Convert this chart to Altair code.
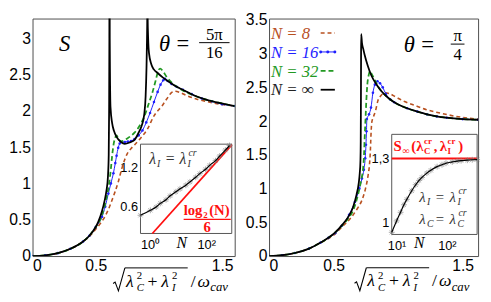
import altair as alt
import pandas as pd

# ================= values =================
# ---- left panel, theta = 5 pi / 16 ----
L8_x = [0, 0.1, 0.2, 0.3, 0.4, 0.45, 0.5, 0.55, 0.575, 0.6, 0.625, 0.652, 0.68, 0.704, 0.73, 0.75, 0.78, 0.807,
        0.858, 0.91, 0.961, 1.026, 1.065, 1.1, 1.13, 1.17, 1.22, 1.3, 1.374, 1.45, 1.53, 1.6]
L8_s = [0, 0.01, 0.04, 0.1, 0.2, 0.27, 0.37, 0.48, 0.55, 0.64, 0.75, 0.88, 1.03, 1.19, 1.33, 1.41, 1.48, 1.53,
        1.63, 1.75, 1.93, 2.07, 2.17, 2.25, 2.27, 2.25, 2.21, 2.16, 2.13, 2.1, 2.08, 2.065]
L16_x = [0, 0.1, 0.2, 0.3, 0.4, 0.45, 0.5, 0.55, 0.575, 0.6, 0.62, 0.64, 0.655, 0.665, 0.678, 0.69, 0.70, 0.73,
         0.755, 0.78, 0.807, 0.84, 0.87, 0.9, 0.93, 0.961, 0.99, 1.013, 1.035, 1.048, 1.07, 1.1, 1.14, 1.19,
         1.26, 1.34, 1.42, 1.5, 1.6]
L16_s = [0, 0.01, 0.04, 0.1, 0.2, 0.28, 0.4, 0.54, 0.68, 0.86, 1.0, 1.14, 1.28, 1.38, 1.49, 1.55, 1.57, 1.57,
         1.575, 1.585, 1.61, 1.66, 1.73, 1.84, 1.97, 2.12, 2.26, 2.36, 2.42, 2.44, 2.41, 2.37, 2.33, 2.29,
         2.23, 2.17, 2.13, 2.09, 2.065]
L32_x = [0, 0.1, 0.2, 0.3, 0.4, 0.45, 0.5, 0.53, 0.56, 0.585, 0.605, 0.62, 0.63, 0.64, 0.652, 0.665, 0.68, 0.70,
         0.75, 0.807, 0.85, 0.884, 0.92, 0.95, 0.975, 0.995, 1.01, 1.03, 1.06, 1.1, 1.15, 1.2, 1.28, 1.36, 1.45,
         1.53, 1.6]
L32_s = [0, 0.01, 0.04, 0.1, 0.2, 0.28, 0.4, 0.48, 0.62, 0.8, 0.98, 1.2, 1.38, 1.52, 1.62, 1.66, 1.61, 1.58,
         1.62, 1.70, 1.8, 1.92, 2.1, 2.26, 2.42, 2.55, 2.58, 2.55, 2.47, 2.39, 2.32, 2.27, 2.21, 2.16, 2.12,
         2.09, 2.065]
LINF_x = [0, 0.1, 0.2, 0.3, 0.4, 0.45, 0.5, 0.52, 0.55, 0.57, 0.585, 0.597, 0.603, 0.606, 0.608, 0.6095, 0.611,
          0.613, 0.617, 0.63, 0.645, 0.665, 0.70, 0.73, 0.77, 0.807, 0.84, 0.865, 0.884, 0.895, 0.902, 0.906,
          0.908, 0.9095, 0.911, 0.915, 0.922, 0.94, 0.96, 0.99, 1.03, 1.07, 1.13, 1.2, 1.28, 1.36, 1.45, 1.53, 1.6]
LINF_s = [0, 0.01, 0.04, 0.1, 0.2, 0.28, 0.4, 0.47, 0.62, 0.76, 0.9, 1.1, 1.4, 2.0, 3.0, 6.0, 3.0,
          2.5, 2.05, 1.83, 1.72, 1.64, 1.57, 1.545, 1.565, 1.60, 1.70, 1.80, 1.95, 2.2, 2.6, 3.0,
          3.3, 6.0, 3.3, 3.0, 2.79, 2.64, 2.57, 2.52, 2.46, 2.41, 2.34, 2.28, 2.21, 2.16, 2.12, 2.09, 2.065]

# ---- right panel, theta = pi / 4 ----
R8_x = [0, 0.1, 0.2, 0.31, 0.4, 0.46, 0.513, 0.564, 0.64, 0.69, 0.716, 0.745, 0.767, 0.778, 0.785, 0.79, 0.796,
        0.81, 0.825, 0.843, 0.868, 0.9, 0.93, 0.98, 1.05, 1.12, 1.22, 1.325, 1.45, 1.62]
R8_s = [0, 0.012, 0.045, 0.11, 0.2, 0.26, 0.33, 0.43, 0.58, 0.72, 0.81, 0.98, 1.19, 1.35, 1.55, 1.8, 1.98,
        2.07, 2.15, 2.3, 2.38, 2.42, 2.41, 2.36, 2.29, 2.24, 2.17, 2.12, 2.07, 2.03]
R16_x = [0, 0.1, 0.2, 0.31, 0.4, 0.46, 0.513, 0.564, 0.62, 0.665, 0.70, 0.72, 0.735, 0.745, 0.751, 0.755, 0.758,
         0.775, 0.79, 0.805, 0.82, 0.84, 0.86, 0.881, 0.906, 0.94, 0.97, 1.07, 1.15, 1.224, 1.3, 1.376, 1.5, 1.62]
R16_s = [0, 0.012, 0.045, 0.11, 0.2, 0.27, 0.34, 0.45, 0.61, 0.8, 1.0, 1.15, 1.28, 1.45, 1.65, 1.85, 2.03,
         2.1, 2.2, 2.42, 2.54, 2.59, 2.56, 2.5, 2.4, 2.32, 2.28, 2.19, 2.14, 2.10, 2.07, 2.05, 2.03, 2.02]
R32_x = [0, 0.1, 0.2, 0.31, 0.4, 0.46, 0.513, 0.57, 0.614, 0.65, 0.68, 0.703, 0.718, 0.729, 0.736, 0.741, 0.748,
         0.754, 0.762, 0.772, 0.782, 0.795, 0.817, 0.84, 0.868, 0.92, 0.97, 1.07, 1.15, 1.224, 1.3, 1.376, 1.5,
         1.62]
R32_s = [0, 0.012, 0.045, 0.11, 0.2, 0.27, 0.35, 0.46, 0.56, 0.67, 0.84, 1.02, 1.16, 1.3, 1.5, 1.75, 2.05,
         2.31, 2.55, 2.68, 2.74, 2.70, 2.62, 2.53, 2.45, 2.35, 2.28, 2.19, 2.14, 2.10, 2.07, 2.05, 2.03, 2.02]
RINF_x = [0, 0.1, 0.2, 0.31, 0.4, 0.46, 0.513, 0.57, 0.614, 0.65, 0.678, 0.695, 0.703, 0.708, 0.7105, 0.712,
          0.713, 0.714, 0.72, 0.73, 0.741, 0.765, 0.792, 0.83, 0.868, 0.92, 0.97, 1.07, 1.15, 1.224, 1.3, 1.376,
          1.5, 1.62]
RINF_s = [0, 0.012, 0.045, 0.11, 0.2, 0.27, 0.35, 0.47, 0.58, 0.72, 0.91, 1.08, 1.23, 1.4, 1.7, 2.3,
          2.9, 3.29, 3.16, 3.07, 2.98, 2.82, 2.68, 2.55, 2.45, 2.35, 2.28, 2.19, 2.14, 2.10, 2.07, 2.05,
          2.03, 2.02]

# ---- left inset: lambda_I^cr versus N (log) ----
LI_N = [1, 2, 3, 4, 6, 8, 12, 16, 24, 32, 48, 64, 96, 128, 192, 256, 384, 512]
LI_V = [0.475, 0.55, 0.60, 0.655, 0.71, 0.77, 0.83, 0.875, 0.93, 0.98, 1.05, 1.105, 1.17, 1.23, 1.30, 1.37,
        1.46, 1.53]
LI_RED_N = [2.3, 600]
LI_RED_V = [0.2, 1.538]

# ---- right inset: S at the critical point versus N (log) ----
RI_N = [8, 10, 12, 14, 16, 20, 24, 28, 32, 40, 48, 64, 80, 96, 128, 160, 192, 256, 320, 400]
RI_V = [0.957, 1.01, 1.05, 1.085, 1.11, 1.15, 1.178, 1.198, 1.212, 1.232, 1.245, 1.262, 1.271, 1.278, 1.284,
        1.288, 1.29, 1.292, 1.294, 1.295]
RI_RED_N = [8, 400]
RI_RED_V = [1.30, 1.30]

LEG_LABELS = ["N = 8", "N = 16", "N = 32", "N = ∞"]
X_TICKS = [0, 0.5, 1.5]
L_Y_TICKS = [0, 0.5, 1, 1.5, 2, 2.5, 3]
R_Y_TICKS = [0, 0.5, 1, 1.5, 2, 2.5, 3, 3.5]

# ================= styles / layout =================
SANS = "Liberation Sans"
SERIF = "Liberation Serif"
H = 242
W1, W2 = 206, 213
C8, C16, C32, CINF = "#b8501f", "#1f1fff", "#229922", "#000000"
CRED = "#ff1010"
STYLE = {
    "8": dict(color=C8, strokeWidth=1.6, strokeDash=[4, 3]),
    "16": dict(color=C16, strokeWidth=1.0),
    "32": dict(color=C32, strokeWidth=1.8, strokeDash=[5, 3]),
    "inf": dict(color=CINF, strokeWidth=1.8),
}
ASTERISK = "M-1,0L1,0M0,-1L0,1M-0.7,-0.7L0.7,0.7M-0.7,0.7L0.7,-0.7"
RADICAL = "M-0.55,0.32L-0.38,0.2L-0.1,0.95L0.45,-1"


def tx(x, y, s, X, Y, dx=0, dy=0, size=16, italic=True, bold=False, color="black",
       align="left", baseline="alphabetic", font=SERIF):
    df = pd.DataFrame({"x": [x], "y": [y], "t": [s]})
    kw = dict(dx=dx, dy=dy, fontSize=size, font=font, color=color, align=align, baseline=baseline)
    if italic:
        kw["fontStyle"] = "italic"
    if bold:
        kw["fontWeight"] = "bold"
    return alt.Chart(df).mark_text(**kw).encode(x=X, y=Y, text="t:N")


def hbar(x, y, X, Y, d0, d1, dy, color="black", w=1.0):
    df = pd.DataFrame({"x": [x], "x2": [x], "y": [y]})
    return alt.Chart(df).mark_rule(color=color, strokeWidth=w, xOffset=d0, x2Offset=d1,
                                   yOffset=dy).encode(x=X, x2="x2:Q", y=Y)


def radical(x, y, X, Y):
    df = pd.DataFrame({"x": [x], "y": [y]})
    return alt.Chart(df).mark_point(shape=RADICAL, size=576, filled=False, color="black", opacity=1,
                                    strokeWidth=1.1, xOffset=7.6, yOffset=-7).encode(x=X, y=Y)


def xtitle(ax, ay, X, Y):
    return [
        radical(ax, ay, X, Y),
        hbar(ax, ay, X, Y, 13, 77, -19),
        tx(ax, ay, "λ", X, Y, dx=14, size=18),
        tx(ax, ay, "2", X, Y, dx=25, dy=-8, size=11, italic=False),
        tx(ax, ay, "C", X, Y, dx=25, dy=5, size=11),
        tx(ax, ay, "+", X, Y, dx=36, size=18, italic=False),
        tx(ax, ay, "λ", X, Y, dx=50, size=18),
        tx(ax, ay, "2", X, Y, dx=61, dy=-8, size=11, italic=False),
        tx(ax, ay, "I", X, Y, dx=61, dy=5, size=11),
        tx(ax, ay, "/", X, Y, dx=80, size=18, italic=False),
        tx(ax, ay, "ω", X, Y, dx=87, size=18),
        tx(ax, ay, "cav", X, Y, dx=100, dy=5, size=13),
    ]


def theta(ax, ay, X, Y, num, den, b0, b1, cx):
    return [
        tx(ax, ay, "θ", X, Y, dx=0, size=23),
        tx(ax, ay, "=", X, Y, dx=18, size=23, italic=False),
        hbar(ax, ay, X, Y, b0, b1, -8),
        tx(ax, ay, num, X, Y, dx=cx, dy=-11, size=17, italic=False, align="center"),
        tx(ax, ay, den, X, Y, dx=cx, dy=8, size=17, italic=False, align="center"),
    ]


def lam_eq(ax, ay, X, Y, sub, color="#333333", size=16):
    s2 = round(size * 0.65)
    return [
        tx(ax, ay, "λ", X, Y, dx=0, size=size, color=color),
        tx(ax, ay, sub, X, Y, dx=8, dy=3, size=s2, color=color),
        tx(ax, ay, "=", X, Y, dx=17, size=size, italic=False, color=color),
        tx(ax, ay, "λ", X, Y, dx=31, size=size, color=color),
        tx(ax, ay, sub, X, Y, dx=39, dy=3, size=s2, color=color),
        tx(ax, ay, "cr", X, Y, dx=40, dy=-8, size=s2, color=color),
    ]


def main_part(series, xdom, ydom, yticks):
    xs = alt.Scale(domain=xdom, nice=False, zero=False)
    ys = alt.Scale(domain=ydom, nice=False, zero=False)
    common = dict(format="~g", title=None, grid=False, ticks=False, domain=False, labelFont=SANS,
                  labelFontSize=16, labelPadding=2, labelColor="black")
    X = alt.X("x:Q", scale=xs, axis=alt.Axis(values=X_TICKS, **common))
    Y = alt.Y("y:Q", scale=ys, axis=alt.Axis(values=yticks, **common))
    layers = []
    for key in ["8", "16", "32", "inf"]:
        xv, yv = series[key]
        df = pd.DataFrame({"x": xv, "y": yv})
        layers.append(alt.Chart(df).mark_line(interpolate="monotone", clip=True, **STYLE[key])
                      .encode(x=X, y=Y))
        if key == "16":
            layers.append(alt.Chart(df).mark_point(filled=True, size=7, color=C16, opacity=1, clip=True)
                          .encode(x=X, y=Y))
    return layers, X, Y


def inset_part(ndom, nrange, vdom, vrange, nlab, vlab):
    xs = alt.Scale(type="log", domain=ndom, range=nrange, nice=False)
    ys = alt.Scale(domain=vdom, range=vrange, nice=False, zero=False)
    (n1, s1), (n2, s2) = nlab
    (v1, t1), (v2, t2) = vlab
    common = dict(title=None, grid=False, ticks=False, domain=False, labelFont=SANS, labelFontSize=13,
                  labelColor="black")
    xax = alt.Axis(orient="bottom", offset=-(H - vrange[0]), values=[n1, n2],
                   labelExpr=f"datum.value < {(n1 * n2) ** 0.5} ? '{s1}' : '{s2}'", labelPadding=5, **common)
    yax = alt.Axis(orient="left", offset=-nrange[0], values=[v1, v2],
                   labelExpr=f"datum.value < {(v1 + v2) / 2} ? '{t1}' : '{t2}'", labelPadding=3, **common)
    X = alt.X("x:Q", scale=xs, axis=xax)
    Y = alt.Y("y:Q", scale=ys, axis=yax)
    box = pd.DataFrame({"x": [ndom[0]], "x2": [ndom[1]], "y": [vdom[0]], "y2": [vdom[1]]})
    layers = [alt.Chart(box).mark_rect(fill="white", stroke="#555555", strokeWidth=1)
              .encode(x=X, x2="x2:Q", y=Y, y2="y2:Q")]
    return layers, X, Y


# ================= left panel =================
left_series = {"8": (L8_x, L8_s), "16": (L16_x, L16_s), "32": (L32_x, L32_s), "inf": (LINF_x, LINF_s)}
lm, LX, LY = main_part(left_series, [0, 1.6], [0, 3.27], L_Y_TICKS)
lm.append(tx(0.255, 2.92, "S", LX, LY, size=23, align="center", baseline="middle"))
lm += theta(1.0, 2.83, LX, LY, "5π", "16", 41, 72, 56.5)
lm += xtitle(0.63, -0.42, LX, LY)

li, IX, IY = inset_part([1, 600], [110, 203], [0.2, 1.55], [219, 128],
                        [(1, "10⁰"), (100, "10²")], [(0.6, "0.6"), (1.2, "1.2")])
li.append(alt.Chart(pd.DataFrame({"x": LI_RED_N, "y": LI_RED_V})).mark_line(color=CRED, strokeWidth=1.8)
          .encode(x=IX, y=IY))
li_df = pd.DataFrame({"x": LI_N, "y": LI_V})
li.append(alt.Chart(li_df).mark_point(shape=ASTERISK, filled=False, size=36, color="#888888", strokeWidth=1)
          .encode(x=IX, y=IY))
li.append(alt.Chart(li_df).mark_line(color="black", strokeWidth=1.2, interpolate="monotone").encode(x=IX, y=IY))
li += lam_eq(1.84, 1.25, IX, IY, "I")
li += [
    tx(20.6, 0.414, "log", IX, IY, dx=0, dy=-4, size=15, italic=False, bold=True, color=CRED),
    tx(20.6, 0.414, "2", IX, IY, dx=20, dy=-1, size=9, italic=False, bold=True, color=CRED),
    tx(20.6, 0.414, "(N)", IX, IY, dx=26, dy=-4, size=15, italic=False, bold=True, color=CRED),
    hbar(20.6, 0.414, IX, IY, 0, 48, 0, color=CRED, w=1.2),
    tx(20.6, 0.414, "6", IX, IY, dx=24, dy=13, size=15, italic=False, bold=True, color=CRED, align="center"),
    tx(17.9, -0.027, "N", IX, IY, size=16, align="center"),
]

left = alt.layer(alt.layer(*lm), alt.layer(*li)).resolve_scale(
    x="independent", y="independent").properties(width=W1, height=H)

# ================= right panel =================
right_series = {"8": (R8_x, R8_s), "16": (R16_x, R16_s), "32": (R32_x, R32_s), "inf": (RINF_x, RINF_s)}
rm, RX, RY = main_part(right_series, [0, 1.62], [0, 3.52], R_Y_TICKS)
rm += theta(1.043, 3.025, RX, RY, "π", "4", 48, 62, 55)
rm += xtitle(0.655, -0.45, RX, RY)

# legend (top-left of right panel)
leg_colors = [C8, C16, C32, "#222222"]
leg_keys = ["8", "16", "32", "inf"]
for i, (lab, col, key) in enumerate(zip(LEG_LABELS, leg_colors, leg_keys)):
    yb = 3.22 - i * 0.28
    rm.append(tx(0.015, yb, lab, RX, RY, size=17, color=col))
    ly = yb + 0.085
    sdf = pd.DataFrame({"x": [0.40, 0.455, 0.51], "y": [ly, ly, ly]})
    rm.append(alt.Chart(sdf).mark_line(**STYLE[key]).encode(x=RX, y=RY))
    if key == "16":
        rm.append(alt.Chart(sdf).mark_point(filled=True, size=9, color=C16, opacity=1).encode(x=RX, y=RY))

ri, JX, JY = inset_part([8, 400], [125, 212], [0.947, 1.412], [220, 118],
                        [(10, "10¹"), (100, "10²")], [(1, "1"), (1.3, "1,3")])
ri.append(alt.Chart(pd.DataFrame({"x": RI_RED_N, "y": RI_RED_V})).mark_line(color=CRED, strokeWidth=2)
          .encode(x=JX, y=JY))
ri_df = pd.DataFrame({"x": RI_N, "y": RI_V})
ri.append(alt.Chart(ri_df).mark_point(shape=ASTERISK, filled=False, size=36, color="#888888", strokeWidth=1)
          .encode(x=JX, y=JY))
ri.append(alt.Chart(ri_df).mark_line(color="black", strokeWidth=1.2, interpolate="monotone").encode(x=JX, y=JY))
ri += lam_eq(28.1, 1.098, JX, JY, "I", size=15)
ri += lam_eq(28.1, 0.996, JX, JY, "C", size=15)
ri += [
    tx(8.7, 1.333, "S", JX, JY, dx=0, size=15, italic=False, bold=True, color=CRED),
    tx(8.7, 1.333, "∞", JX, JY, dx=9, dy=3, size=10, italic=False, bold=True, color=CRED),
    tx(8.7, 1.333, "(", JX, JY, dx=18, size=15, italic=False, bold=True, color=CRED),
    tx(8.7, 1.333, "λ", JX, JY, dx=23, size=15, italic=False, bold=True, color=CRED),
    tx(8.7, 1.333, "cr", JX, JY, dx=31, dy=-7, size=9, italic=False, bold=True, color=CRED),
    tx(8.7, 1.333, "C", JX, JY, dx=31, dy=3, size=9, italic=False, bold=True, color=CRED),
    tx(8.7, 1.333, ",", JX, JY, dx=41, size=15, italic=False, bold=True, color=CRED),
    tx(8.7, 1.333, "λ", JX, JY, dx=47, size=15, italic=False, bold=True, color=CRED),
    tx(8.7, 1.333, "cr", JX, JY, dx=55, dy=-7, size=9, italic=False, bold=True, color=CRED),
    tx(8.7, 1.333, "I", JX, JY, dx=55, dy=3, size=9, italic=False, bold=True, color=CRED),
    tx(8.7, 1.333, ")", JX, JY, dx=66, size=15, italic=False, bold=True, color=CRED),
    tx(28.2, 0.882, "N", JX, JY, size=16, align="center"),
]

right = alt.layer(alt.layer(*rm), alt.layer(*ri)).resolve_scale(
    x="independent", y="independent").properties(width=W2, height=H)

chart = alt.hconcat(left, right, spacing=8, padding=0).configure_view(stroke="#4d4d4d", strokeWidth=1)

chart.save("out.html", embed_options={"renderer": "svg", "actions": False})
